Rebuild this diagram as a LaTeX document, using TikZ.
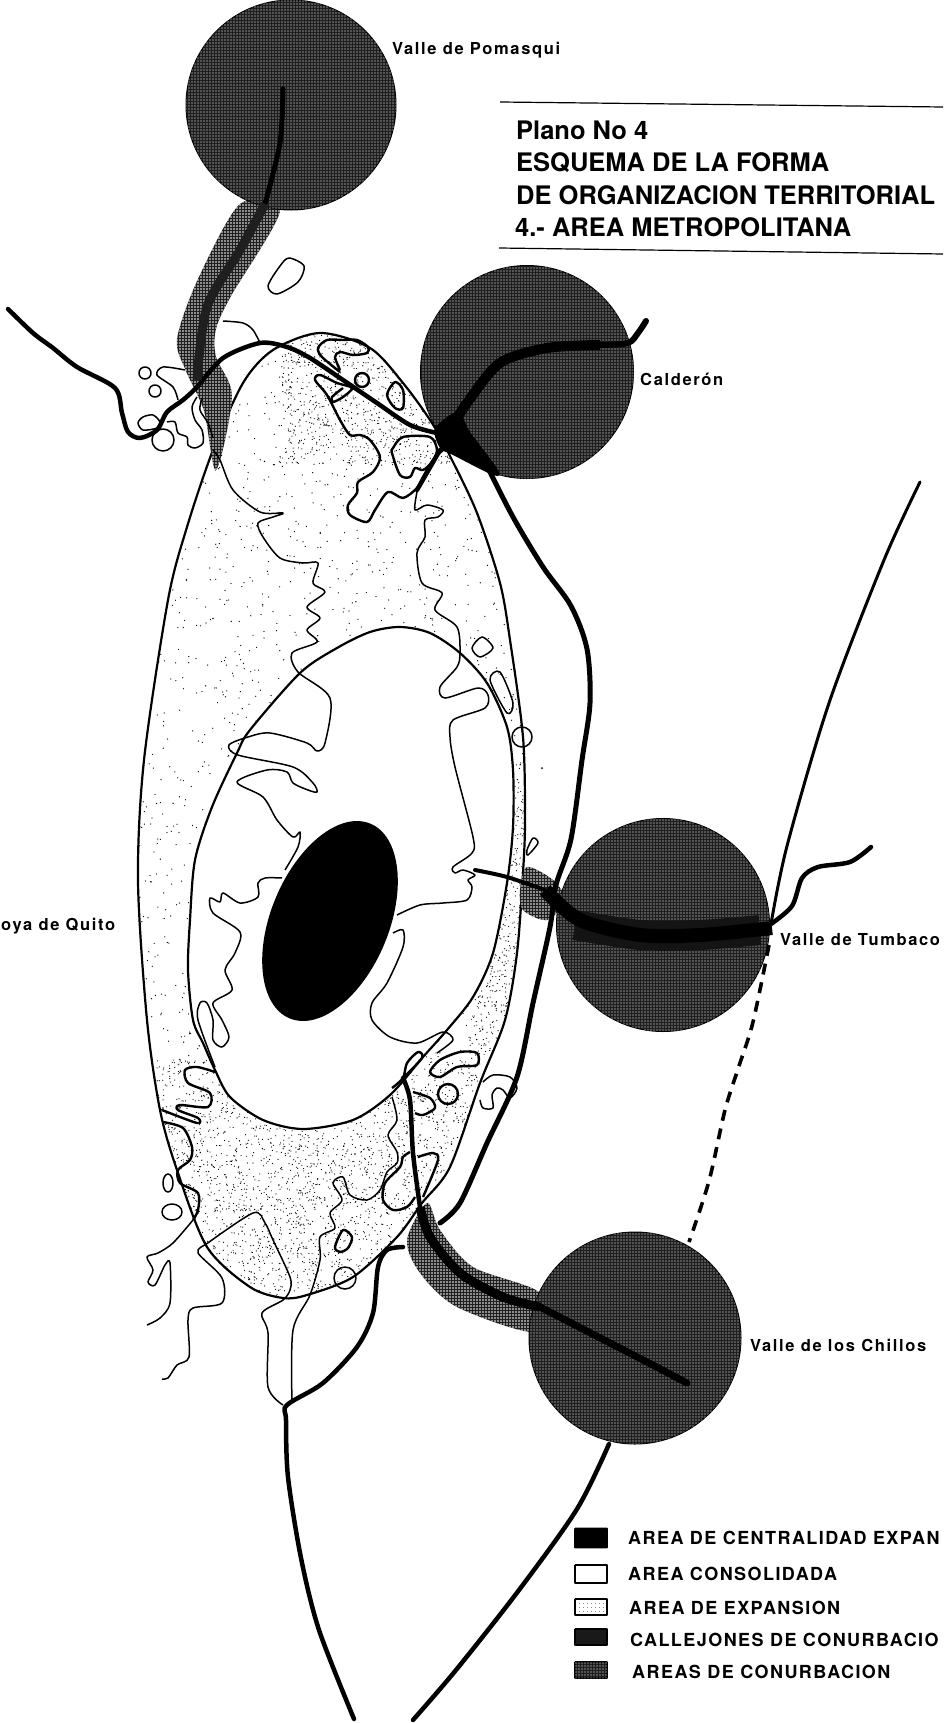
\documentclass[tikz,border=0pt]{standalone}
\usepackage{fontspec}
\setsansfont{TeX Gyre Heros}
\newfontfamily\labfont[LetterSpace=10]{TeX Gyre Heros}
\newfontfamily\legfont[LetterSpace=8]{TeX Gyre Heros}
\usetikzlibrary{patterns.meta}
\definecolor{conurb}{gray}{0.12}
\tikzset{
  road/.style={line width=4.5pt,black,line cap=round,line join=round},
  wig/.style={line width=1.5pt,black,line join=round},
  fwig/.style={line width=2.4pt,black,line join=round},
  edge/.style={line width=2.2pt,black},
  halft/.style={fill=conurb,postaction={pattern={Dots[distance=3pt,radius=.7pt]},pattern color=white}},
  band/.style={fill=conurb,postaction={pattern={Dots[distance=3pt,radius=.9pt]},pattern color=white}},
  circ/.style={circle,draw=black,line width=1pt,halft,minimum size=#1,inner sep=0pt},
  lab/.style={font=\labfont\bfseries\fontsize{16.5}{18}\selectfont,anchor=west,inner sep=0pt},
  ttl/.style={font=\sffamily\bfseries\fontsize{25.5}{28}\selectfont,anchor=west,inner sep=0pt},
  leg/.style={font=\legfont\bfseries\fontsize{18}{20}\selectfont,anchor=west,inner sep=0pt},
  key/.style={draw=black,line width=1.8pt,minimum width=32pt,inner sep=0pt,rounded corners=.5pt}
}
\begin{document}
\begin{tikzpicture}[x=1pt,y=-1pt]
  \useasboundingbox (0,0) rectangle (943,1723);
  % expansion ring
  \begin{scope}
    \clip plot[smooth cycle] coordinates {(320,333) (370,348) (403,383) (432,423) (452,460) (477,513) (500,583) (510,640) (523,737) (525,820) (523,873) (517,953) (505,1020) (480,1083) (450,1167) (422,1203) (397,1237) (353,1277) (307,1295) (283,1298) (250,1287) (207,1247) (177,1170) (160,1110) (147,1020) (138,881) (144,760) (168,600) (187,527) (213,450) (243,383) (273,350)};
    \pgfmathsetseed{41}
    \foreach \i in {1,...,2600} \fill ({130+400*rnd},{330+970*rnd}) circle (.65);
    \foreach \i in {1,...,2500} \fill ({150+330*rnd},{1060+240*rnd}) circle (.6);
    \foreach \i in {1,...,900} \fill ({280+180*rnd},{335+130*rnd}) circle (.6);
    \foreach \i in {1,...,700} \fill ({470+60*rnd},{760+300*rnd}) circle (.6);
  \end{scope}
  \draw[edge] plot[smooth cycle] coordinates {(320,333) (370,348) (403,383) (432,423) (452,460) (477,513) (500,583) (510,640) (523,737) (525,820) (523,873) (517,953) (505,1020) (480,1083) (450,1167) (422,1203) (397,1237) (353,1277) (307,1295) (283,1298) (250,1287) (207,1247) (177,1170) (160,1110) (147,1020) (138,881) (144,760) (168,600) (187,527) (213,450) (243,383) (273,350)};
  % consolidated area and centre
  \draw[edge,fill=white] plot[smooth cycle] coordinates {(400,627) (430,633) (460,653) (487,683) (507,727) (513,770) (513,827) (507,883) (493,953) (473,997) (447,1030) (423,1057) (390,1095) (353,1120) (303,1129) (263,1120) (230,1097) (215,1070) (203,1043) (193,1020) (188,970) (190,920) (195,860) (212,807) (237,753) (250,730) (300,673) (337,648) (370,632)};
  \fill (330,921) ellipse[x radius=59,y radius=105.4,rotate=-22.5];
  % corridors
  \path[band] plot[smooth cycle] coordinates {(240,204) (198,279) (177,339) (186,371) (204,411) (216,470) (232,396) (216,357) (216,329) (231,296) (280,211)};
  \path[band] plot[smooth cycle] coordinates {(527,867) (553,880) (565,900) (547,920) (523,910) (520,890)};
  \path[band] plot[smooth cycle] coordinates {(427,1203) (440,1230) (473,1267) (540,1293) (535,1332) (457,1307) (420,1273) (407,1240)};
  % conurbation circles
  \node[circ=210pt] (pomasqui) at (291,105) {};
  \node[circ=213pt] (calderon) at (527,372) {};
  \node[circ=213pt] (tumbaco) at (663,925) {};
  \node[circ=212pt] (chillos) at (635,1338) {};
  % thin outlines
  \draw[wig] plot[smooth] coordinates {(213,450) (220,460) (233,490) (260,512) (283,513) (273,517) (258,523) (263,537) (280,558) (303,563) (318,563) (313,583) (325,592) (307,607) (320,618) (307,630) (317,642) (292,653) (298,672) (330,698) (325,743) (317,751) (307,743) (270,733) (248,737) (229,745) (238,755) (293,767) (313,783) (317,792) (308,790) (293,783) (287,772) (267,770) (237,782) (263,797) (277,820) (293,837) (300,832) (298,847) (285,870)};
  \draw[wig] plot[smooth] coordinates {(282,878) (265,878) (258,883) (258,897) (240,903) (223,893) (220,902) (210,898) (213,913) (240,932) (235,953) (225,970) (232,990) (213,1003) (222,1020) (229,1037) (222,1047) (213,1040) (213,1020) (207,1003) (200,1003) (198,1020) (215,1067)};
  \draw[wig] plot[smooth] coordinates {(417,492) (415,510) (427,505) (443,510) (438,517) (425,520) (425,537) (417,553) (422,583) (442,593) (435,610) (457,627) (460,653) (457,667) (440,687) (445,698) (478,688) (488,695) (485,708) (453,720) (450,737) (455,767) (473,837) (472,853) (453,867) (455,873) (463,870) (475,875) (468,880) (472,887) (467,900) (443,903) (420,905) (397,915)};
  \draw[wig] plot[smooth] coordinates {(393,933) (403,930) (403,947) (387,983) (372,1003) (372,1020) (390,1037) (417,1043) (443,1032) (453,1040) (437,1053)};
  \draw[wig] plot[smooth cycle] coordinates {(472,648) (482,637) (493,648) (480,657)};
  \draw[wig] plot[smooth cycle] coordinates {(490,680) (500,672) (513,703) (507,713)};
  \draw[wig] (522,737) circle (10);
  \draw[wig] plot[smooth cycle] coordinates {(533,838) (538,843) (528,855) (527,850)};
  \fill (542,768) circle (1);
  \draw[wig] plot[smooth cycle] coordinates {(289,258) (304,266) (298,282) (277,294) (268,286) (280,266)};
  \draw[wig] plot[smooth] coordinates {(223,321) (243,323) (253,330) (260,343)};
  \draw[wig] (145,373) circle (6);
  \draw[wig] (155,391) circle (6);
  \draw[wig] plot[smooth] coordinates {(185,370) (163,367) (157,375) (173,387) (178,400)};
  \draw[wig] plot[smooth cycle] coordinates {(160,422) (153,415) (143,417) (138,423) (143,430) (157,428)};
  \draw[wig] (163,440) circle (11);
  \draw[wig] plot[smooth] coordinates {(167,422) (175,422) (178,433) (187,437) (188,445) (195,448) (203,443) (202,430) (195,420) (192,407) (197,397)};
  \draw[wig] plot[smooth] coordinates {(202,398) (200,410) (208,423) (213,438)};
  % blobs, north
  \draw[fwig] plot[smooth] coordinates {(340,372) (322,357) (318,348) (327,340) (343,340) (357,340) (368,347) (367,353) (353,355) (340,352) (335,357) (340,370)};
  \draw[fwig] (362,380) circle (7);
  \draw[fwig] plot[smooth cycle] coordinates {(395,382) (403,390) (403,408) (395,408) (387,395)};
  \draw[fwig] plot[smooth] coordinates {(343,388) (332,397) (333,402) (343,397) (352,388) (337,383) (320,375) (315,380) (327,395) (340,420) (350,435) (360,435) (370,440) (380,457) (373,472) (358,482) (357,493) (348,505) (350,515) (367,522) (375,510) (388,492) (403,498) (417,488) (423,477) (433,460) (443,450)};
  \draw[fwig] plot[smooth cycle] coordinates {(393,448) (403,437) (430,437) (437,450) (432,462) (423,470) (415,468) (410,477) (400,475) (392,453)};
  \draw[road] (440,450) -- (417,490);
  % blobs, south
  \draw[fwig] plot[smooth] coordinates {(392,1088) (403,1078) (407,1063) (418,1052) (422,1058) (403,1078)};
  \draw[fwig] plot[smooth cycle] coordinates {(430,1072) (440,1060) (460,1052) (477,1053) (477,1065) (457,1067) (440,1077)};
  \draw[fwig] (448,1094) circle (10);
  \draw[fwig] plot[smooth] coordinates {(413,1092) (430,1098) (435,1108) (423,1115) (415,1113)};
  \draw[wig] plot[smooth] coordinates {(392,1097) (397,1120) (388,1135) (397,1152) (397,1163) (387,1172) (380,1190) (367,1200) (350,1195) (343,1177) (333,1183) (342,1200) (330,1213) (335,1228) (320,1237) (320,1260) (310,1295) (293,1330) (292,1402)};
  \draw[fwig] plot[smooth] coordinates {(410,1152) (403,1157) (400,1167) (385,1183) (383,1200) (393,1210) (407,1207) (415,1197)};
  \draw[fwig] plot[smooth] coordinates {(418,1157) (433,1153) (438,1160) (423,1197)};
  \draw[fwig] plot[smooth cycle] coordinates {(335,1247) (343,1230) (352,1237) (348,1248) (340,1252)};
  \draw[wig] (345,1278) circle (11);
  \draw[wig] plot[smooth] coordinates {(205,1245) (253,1213) (265,1223) (273,1240) (290,1277) (290,1290) (283,1300) (262,1313) (268,1333) (268,1387) (283,1405)};
  \draw[wig] plot[smooth] coordinates {(205,1245) (198,1253) (222,1278) (222,1303) (193,1308) (188,1320) (189,1357) (177,1365) (168,1378) (162,1379)};
  \draw[fwig] plot[smooth] coordinates {(215,1072) (197,1067) (185,1070) (188,1083) (210,1093) (208,1107) (180,1105) (178,1110) (198,1118) (197,1123) (162,1110)};
  \draw[fwig] plot[smooth] coordinates {(163,1122) (183,1128) (192,1147) (190,1160) (178,1170) (180,1183) (198,1193) (198,1210) (193,1220)};
  \draw[wig] plot[smooth] coordinates {(193,1220) (173,1243) (158,1253) (147,1257) (153,1270) (148,1282) (155,1285) (165,1265) (170,1263) (170,1303) (160,1318) (147,1325)};
  \draw[wig] (168,1183) ellipse (5 and 9);
  \draw[wig] (172,1212) ellipse (10 and 8);
  \draw[wig] plot[smooth] coordinates {(483,1082) (493,1075) (510,1077) (517,1088) (510,1098) (503,1090) (497,1088) (492,1095) (493,1108) (483,1108) (480,1100)};
  % roads
  \draw[road] plot[smooth] coordinates {(8,309) (33,333) (53,348) (77,367) (115,388) (122,413) (128,432) (140,438) (157,430) (167,412) (183,400) (197,387) (223,358) (260,343) (287,347) (310,358) (343,380) (377,403) (410,425) (437,433)};
  \fill plot[smooth cycle] coordinates {(435,428) (458,412) (470,432) (498,470) (493,475) (453,455) (440,448)};
  \draw[road,line width=10pt,line cap=butt] plot[smooth] coordinates {(450,430) (467,403) (500,363) (547,348) (600,345)};
  \draw[road,line width=6pt] plot[smooth] coordinates {(600,345) (628,343) (638,333) (646,321)};
  \draw[road,line width=5pt] plot[smooth] coordinates {(485,462) (513,517) (543,567) (571,606) (587,649) (590,703) (582,760) (571,839) (556,885) (550,927) (533,1003) (517,1077) (487,1143) (460,1203) (440,1223)};
  \draw[road,line width=5pt] plot[smooth] coordinates {(283,89) (280,143) (265,204)};
  \draw[road,line width=9pt,line cap=butt,conurb] plot[smooth] coordinates {(265,204) (240,250) (207,307) (197,380)};
  \draw[road,line width=4pt] plot[smooth] coordinates {(475,870) (507,877) (545,890)};
  \draw[road,line width=30pt,line cap=butt,black!92] plot[smooth] coordinates {(575,925) (640,935) (700,935) (760,930)};
  \draw[road,line width=14pt,line cap=butt] plot[smooth] coordinates {(545,890) (580,920) (640,935) (700,935) (772,928)};
  \draw[road,line width=9pt,line cap=butt] plot[smooth] coordinates {(420,1207) (430,1237) (460,1273) (503,1297) (540,1307)};
  \draw[road,line width=7pt] plot[smooth] coordinates {(540,1307) (645,1361) (687,1383)};
  \draw[road] plot[smooth] coordinates {(403,1078) (410,1100) (413,1153) (420,1207)};
  \draw[road] plot[smooth] coordinates {(403,1247) (387,1250) (378,1267) (373,1313) (357,1347) (323,1383) (287,1405) (286,1420) (288,1477) (301,1558) (319,1630) (354,1719)};
  \draw[road] plot[smooth] coordinates {(609,1444) (577,1509) (519,1590) (456,1670) (413,1720)};
  \draw[road,line width=3pt] plot[smooth] coordinates {(920,482) (884,560) (829,703) (787,846) (771,924)};
  \draw[road] plot[smooth] coordinates {(771,924) (792,906) (802,878) (818,867) (850,862) (871,847)};
  \draw[road,line width=3.6pt,line cap=butt,dash pattern=on 11pt off 8pt] plot[smooth] coordinates {(769,945) (753,1022) (739,1066) (725,1110) (709,1181) (689,1242)};
  % labels
  \node[lab] (lpom) at (392,50) {Valle de Pomasqui};
  \node[lab] (lcal) at (640,379) {Calderón};
  \node[lab] (ltum) at (780,940) {Valle de Tumbaco};
  \node[lab] (lchi) at (750,1345) {Valle de los Chillos};
  \node[lab] (lhoy) at (1,926) {oya de Quito};
  \coordinate (rt1) at (500,102); \coordinate (rt2) at (943,107);
  \coordinate (rb1) at (499,248); \coordinate (rb2) at (943,254);
  \draw[line width=1.2pt] (rt1) -- (rt2);
  \draw[line width=1.2pt] (rb1) -- (rb2);
  \node[ttl] (t1) at (516,130) {Plano No 4};
  \node[ttl] (t2) at (516,163) {ESQUEMA DE LA FORMA};
  \node[ttl] (t3) at (516,195) {DE ORGANIZACION TERRITORIAL};
  \node[ttl] (t4) at (515,227) {4.- AREA METROPOLITANA};
  % legend
  \node[key,fill=black,minimum height=19pt] (k1) at (591,1538) {};
  \node[key,minimum height=18pt] (k2) at (591,1574) {};
  \node[key,pattern={Dots[distance=4pt,radius=.4pt]},minimum height=16pt] (k3) at (591,1607) {};
  \node[key,fill=black!90,minimum height=16pt] (k4) at (591,1637) {};
  \node[key,halft,minimum height=16pt] (k5) at (591,1670) {};
  \node[leg] (l1) at (628,1538) {AREA DE CENTRALIDAD EXPAN};
  \node[leg] (l2) at (628,1574) {AREA CONSOLIDADA};
  \node[leg] (l3) at (629,1608) {AREA DE EXPANSION};
  \node[leg] (l4) at (630,1640) {CALLEJONES DE CONURBACIO};
  \node[leg] (l5) at (632,1672) {AREAS DE CONURBACION};
\end{tikzpicture}
\end{document}
